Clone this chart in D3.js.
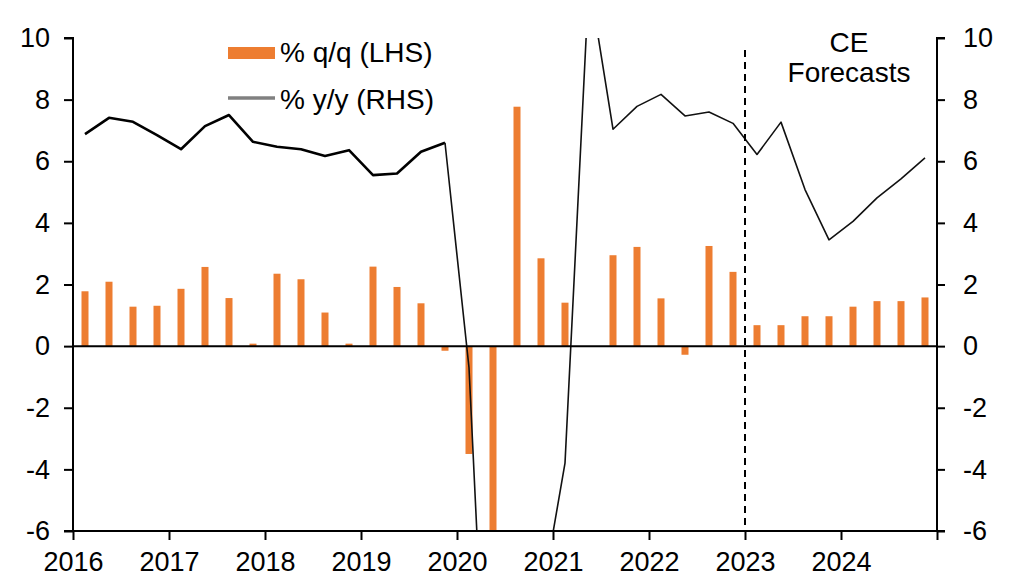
<!DOCTYPE html>
<html>
<head>
<meta charset="utf-8">
<script src="https://cdn.jsdelivr.net/npm/d3@7"></script>
<style>
  body { margin: 0; background: #fff; }
  svg text { font-family: "Liberation Sans", Arial, sans-serif; fill: #000; }
</style>
</head>
<body>
<svg id="chart" width="1009" height="576"></svg>
<script>
// quarterly data, 2016Q1 - 2024Q4
var quarters = [
  "2016Q1","2016Q2","2016Q3","2016Q4","2017Q1","2017Q2","2017Q3","2017Q4",
  "2018Q1","2018Q2","2018Q3","2018Q4","2019Q1","2019Q2","2019Q3","2019Q4",
  "2020Q1","2020Q2","2020Q3","2020Q4","2021Q1","2021Q2","2021Q3","2021Q4",
  "2022Q1","2022Q2","2022Q3","2022Q4","2023Q1","2023Q2","2023Q3","2023Q4",
  "2024Q1","2024Q2","2024Q3","2024Q4"
];
var qoq = [
  1.78, 2.09, 1.28, 1.31, 1.86, 2.57, 1.56, 0.08,
  2.35, 2.17, 1.09, 0.08, 2.58, 1.92, 1.39, -0.15,
  -3.5, -15.0, 7.77, 2.85, 1.41, 0.0, 2.95, 3.22,
  1.55, -0.28, 3.25, 2.41, 0.68, 0.68, 0.97, 0.97,
  1.28, 1.46, 1.46, 1.58
];
var yoy = [
  6.88, 7.41, 7.28, 6.85, 6.39, 7.14, 7.5, 6.63,
  6.47, 6.39, 6.17, 6.36, 5.55, 5.6, 6.31, 6.6,
  -0.7, -17.0, -11.5, -8.3, -3.8, 11.9, 7.04, 7.78,
  8.17, 7.47, 7.6, 7.23, 6.22, 7.27, 5.08, 3.45,
  4.05, 4.81, 5.43, 6.11
];
var years = [2016, 2017, 2018, 2019, 2020, 2021, 2022, 2023, 2024, 2025];
var yTicks = [-6, -4, -2, 0, 2, 4, 6, 8, 10];
var forecastStart = 2023;

var svg = d3.select("#chart");
var pl = 73, pr = 937, pt = 38, pb = 531;
var fs = "27px";

var x = d3.scaleBand().domain(quarters).range([pl, pr]);
var xYear = d3.scaleLinear().domain([2016, 2025]).range([pl, pr]);
var y = d3.scaleLinear().domain([-6, 10]).range([pb, pt]);

svg.append("defs").append("clipPath").attr("id", "plot")
  .append("rect").attr("x", pl).attr("y", pt)
  .attr("width", pr - pl).attr("height", pb - pt);

var plot = svg.append("g").attr("clip-path", "url(#plot)");

// bars
plot.selectAll(".bar")
  .data(qoq)
  .join("rect")
  .attr("class", "bar")
  .attr("x", (d, i) => x(quarters[i]) + x.bandwidth() / 2 - 3.5)
  .attr("width", 7)
  .attr("y", d => y(Math.max(0, d)))
  .attr("height", d => Math.abs(y(d) - y(0)))
  .attr("fill", "#ED7D31");

// zero line
svg.append("line")
  .attr("x1", pl).attr("x2", pr)
  .attr("y1", y(0)).attr("y2", y(0))
  .attr("stroke", "#000").attr("stroke-width", 2);

// y/y line, heavier for the first part
var line = d3.line()
  .x(d => x(d.q) + x.bandwidth() / 2)
  .y(d => y(d.v));
var pts = yoy.map((v, i) => ({q: quarters[i], v: v}));

plot.append("path")
  .datum(pts.slice(0, 16))
  .attr("d", line)
  .attr("fill", "none").attr("stroke", "#000").attr("stroke-width", 2.6)
  .attr("stroke-linejoin", "round");
plot.append("path")
  .datum(pts.slice(15))
  .attr("d", line)
  .attr("fill", "none").attr("stroke", "#111").attr("stroke-width", 1.6)
  .attr("stroke-linejoin", "round");

// forecast divider
svg.append("line")
  .attr("x1", xYear(forecastStart)).attr("x2", xYear(forecastStart))
  .attr("y1", 50).attr("y2", pb)
  .attr("stroke", "#000").attr("stroke-width", 2)
  .attr("stroke-dasharray", "7,5");

// axes
var yl = svg.append("g").attr("transform", `translate(${pl},0)`)
  .call(d3.axisLeft(y).tickValues(yTicks).tickSize(9).tickPadding(14).tickFormat(d => String(d)));
var yr = svg.append("g").attr("transform", `translate(${pr},0)`)
  .call(d3.axisRight(y).tickValues(yTicks).tickSize(8).tickPadding(18).tickFormat(d => String(d)));
var xb = svg.append("g").attr("transform", `translate(0,${pb})`)
  .call(d3.axisBottom(xYear).tickValues(years).tickSize(9).tickPadding(14)
    .tickFormat(d => d === 2025 ? "" : String(d)));

[yl, yr, xb].forEach(g => {
  g.select(".domain").attr("stroke", "#000").attr("stroke-width", 2);
  g.selectAll(".tick line").attr("stroke", "#000").attr("stroke-width", 2);
  g.selectAll("text").style("font-size", fs)
    .style("font-family", '"Liberation Sans", Arial, sans-serif').attr("fill", "#000");
});
yl.select(".domain").attr("d", `M-9,${pt}H0V${pb}H-9`);
yr.select(".domain").attr("d", `M8,${pt}H0V${pb}H8`);
xb.select(".domain").attr("d", `M${pl},0H${pr}`);
xb.selectAll("text").attr("dy", "0.62em");

// legend
var lg = svg.append("g");
lg.append("rect").attr("x", 228).attr("y", 47).attr("width", 47).attr("height", 12).attr("fill", "#ED7D31");
lg.append("text").attr("x", 280).attr("y", 62).style("font-size", "28px").text("% q/q (LHS)");
lg.append("line").attr("x1", 228).attr("x2", 275).attr("y1", 98).attr("y2", 98)
  .attr("stroke", "#808080").attr("stroke-width", 3.5);
lg.append("text").attr("x", 280).attr("y", 109).style("font-size", "28px").text("% y/y (RHS)");

// forecast label
svg.append("text").attr("x", 849).attr("y", 52).attr("text-anchor", "middle").style("font-size", "28px").text("CE");
svg.append("text").attr("x", 849).attr("y", 82).attr("text-anchor", "middle").style("font-size", "28px").text("Forecasts");
</script>
</body>
</html>
